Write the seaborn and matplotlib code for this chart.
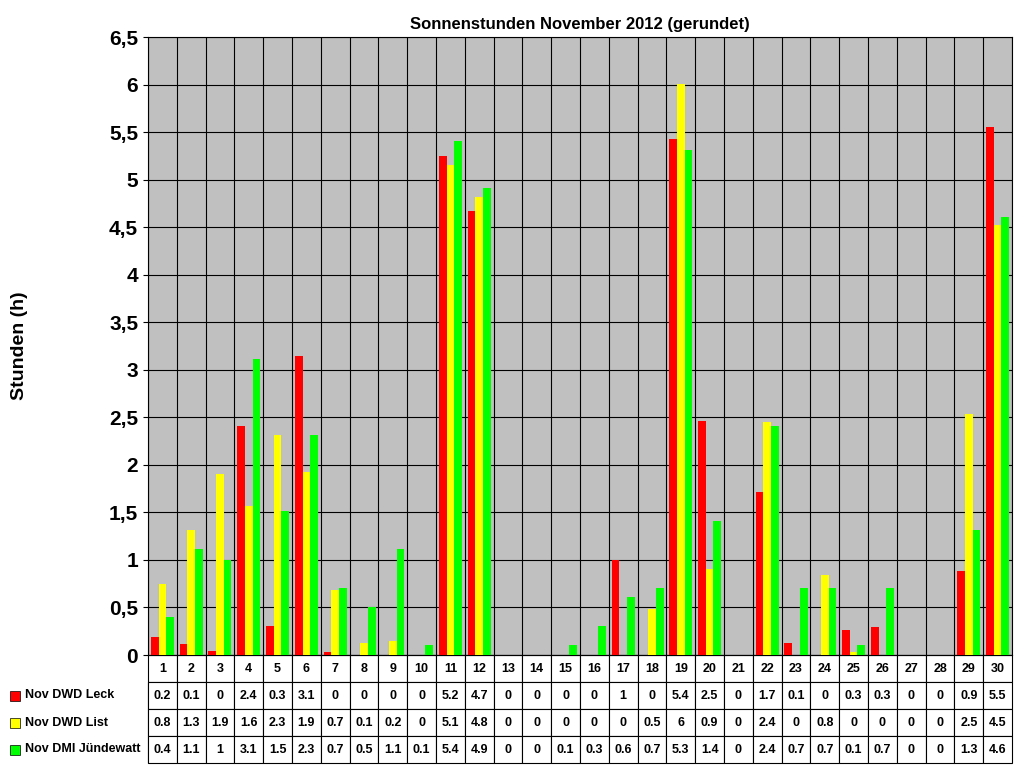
import matplotlib
matplotlib.use("Agg")
import matplotlib.pyplot as plt
import seaborn as sns
import pandas as pd
from matplotlib.patches import Rectangle
from matplotlib.ticker import FuncFormatter, MultipleLocator

plt.rcParams['font.family'] = ['Liberation Sans', 'DejaVu Sans']

days = [str(d) for d in range(1, 31)]
series = ["Nov DWD Leck", "Nov DWD List", "Nov DMI Jündewatt"]
leck = [0.19,0.12,0.04,2.41,0.31,3.15,0.03,0,0,0,5.25,4.67,0,0,0,0,1.0,0,5.43,2.46,0,1.71,0.13,0,0.26,0.29,0,0,0.88,5.55]
lst = [0.75,1.31,1.9,1.57,2.31,1.93,0.68,0.13,0.15,0,5.15,4.82,0,0,0,0,0,0.48,6.01,0.9,0,2.45,0,0.84,0.03,0,0,0,2.54,4.52]
dmi = [0.4,1.11,1.0,3.11,1.51,2.31,0.71,0.51,1.11,0.11,5.41,4.91,0,0,0.11,0.31,0.61,0.71,5.31,1.41,0,2.41,0.71,0.71,0.11,0.71,0,0,1.31,4.61]
tab_leck = ["0.2","0.1","0","2.4","0.3","3.1","0","0","0","0","5.2","4.7","0","0","0","0","1","0","5.4","2.5","0","1.7","0.1","0","0.3","0.3","0","0","0.9","5.5"]
tab_list = ["0.8","1.3","1.9","1.6","2.3","1.9","0.7","0.1","0.2","0","5.1","4.8","0","0","0","0","0","0.5","6","0.9","0","2.4","0","0.8","0","0","0","0","2.5","4.5"]
tab_dmi = ["0.4","1.1","1","3.1","1.5","2.3","0.7","0.5","1.1","0.1","5.4","4.9","0","0","0.1","0.3","0.6","0.7","5.3","1.4","0","2.4","0.7","0.7","0.1","0.7","0","0","1.3","4.6"]
colors = ["#FF0000", "#FFFF00", "#00FF00"]

df = pd.DataFrame({"Tag": days*3, "Serie": [series[0]]*30+[series[1]]*30+[series[2]]*30,
                   "Stunden": leck+lst+dmi})

fig = plt.figure(figsize=(10.24, 7.68), dpi=100)
ax = fig.add_axes([0.1445, 0.1471, 0.8438, 0.8047])
ax.set_facecolor("#C0C0C0")
sns.barplot(data=df, x="Tag", y="Stunden", hue="Serie", palette=colors, ax=ax, saturation=1,
            width=0.8, linewidth=0, legend=False, zorder=3)
ax.set_ylim(0, 6.5)
ax.set_xlim(-0.5, 29.5)
ax.yaxis.set_major_locator(MultipleLocator(0.5))
ax.yaxis.set_major_formatter(FuncFormatter(lambda v, p: f"{v:g}".replace(".", ",")))
for t in ax.get_yticklabels():
    t.set_fontweight("bold"); t.set_fontsize(15)
ax.grid(axis="y", color="black", linewidth=0.8, zorder=1)
for i in range(31):
    ax.axvline(i-0.5, color="black", linewidth=0.8, zorder=1)
ax.set_axisbelow(True)
ax.set_xticks([])
ax.set_xlabel("")
ax.set_ylabel("Stunden (h)", fontsize=14, fontweight="bold", labelpad=58)
ax.set_title("Sonnenstunden November 2012 (gerundet)", fontsize=12, fontweight="bold", pad=6)
for s in ax.spines.values():
    s.set_color("black")

cell = [days, tab_leck, tab_list, tab_dmi]
tb = ax.table(cellText=cell, rowLabels=["", "", "", ""],
              cellLoc="center", rowLoc="left", bbox=[0, -0.175, 1, 0.175])
tb.auto_set_font_size(False)
for (r, c), cl in tb.get_celld().items():
    cl.set_fontsize(9)
    cl.get_text().set_fontweight("bold")
    cl.set_linewidth(0.8)
    if c == -1:
        cl.set_width(0.1655)
        if r == 0:
            cl.set_linewidth(0)
# colour keys and row labels
rowh = 108 / 4
for k, col in enumerate(colors):
    yc = 655 + (k + 1.5) * rowh
    fig.patches.append(Rectangle((10/1024, (768-yc-5)/768), 10/1024, 10/768,
                                 transform=fig.transFigure, facecolor=col, edgecolor="black", linewidth=0.5))
    fig.text(25/1024, (768-yc)/768, series[k], fontsize=9, fontweight="bold", va="center", ha="left")
fig.savefig("out.png", dpi=100)
